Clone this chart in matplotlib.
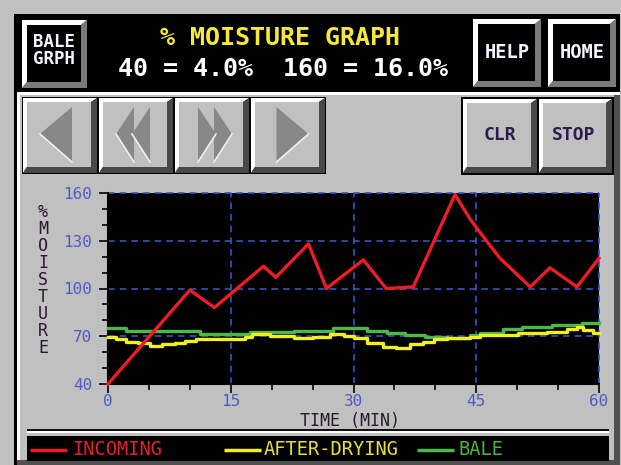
import matplotlib
matplotlib.use("Agg")
import matplotlib.pyplot as plt
from matplotlib.patches import Rectangle, Polygon
from matplotlib.ticker import MultipleLocator

# ---------------- data ----------------
incoming_t = [0, 10, 13, 19, 20.5, 24.5, 26.7, 31.2, 34, 37.3, 42.4, 44.2, 45.5, 47.9, 51.6, 54, 57.3, 60]
incoming_v = [40, 99, 88, 114, 107, 128, 100, 118, 100, 101, 159, 144, 135, 119, 101, 113, 101, 119]

drying_t = [0, 1.0, 2.2, 3.7, 5.1, 6.6, 8.2, 9.4, 10.8, 16.7, 17.6, 19.8, 22.7, 25.0, 27.1, 28.8,
            30.0, 31.6, 33.6, 35.2, 36.9, 38.5, 39.8, 41.4, 44.2, 45.5, 50.1, 53.6, 56.1, 57.3, 58.1, 59.3, 60]
drying_v = [69.7, 68.1, 66.6, 65.6, 64.1, 65.0, 66.0, 67.2, 68.1, 69.7, 71.2, 70.2, 69.1, 69.7, 71.4, 70.2,
            68.7, 66.0, 63.5, 62.4, 65.2, 66.6, 68.1, 68.7, 69.7, 70.5, 71.8, 72.9, 74.3, 75.6, 73.9, 72.3, 72.3]

bale_t = [0, 2.2, 11.2, 17.3, 22.7, 27.5, 31.6, 34.1, 36.3, 38.7, 41.4, 44.2, 45.5, 48.3, 50.6, 54.2, 57.9, 60]
bale_v = [75.0, 73.5, 71.2, 72.5, 73.2, 75.0, 73.5, 71.8, 70.8, 69.7, 68.7, 70.8, 72.3, 74.3, 75.9, 76.9, 78.4, 78.4]

series_names = ["INCOMING", "AFTER-DRYING", "BALE"]
series_colors = ["#ee1c24", "#f2ee20", "#4cb848"]
legend_text_colors = ["#e8202a", "#e8e030", "#50b040"]

x_ticks = [0, 15, 30, 45, 60]
y_ticks = [40, 70, 100, 130, 160]

title_text = "% MOISTURE GRAPH"
subtitle_text = "40 = 4.0%  160 = 16.0%"
x_label = "TIME (MIN)"
y_label = "%MOISTURE"

# ---------------- figure ----------------
W, H = 621, 465
fig = plt.figure(figsize=(W / 100, H / 100), dpi=100)
fig.patch.set_facecolor("#c0c0c0")
bg = fig.add_axes([0, 0, 1, 1])
bg.set_xlim(0, W)
bg.set_ylim(H, 0)
bg.axis("off")

MONO = "DejaVu Sans Mono"


def rect(x0, y0, x1, y1, fc, z=1):
    bg.add_patch(Rectangle((x0, y0), x1 - x0, y1 - y0, facecolor=fc, edgecolor="none", zorder=z))


def bevel(x0, y0, x1, y1, face, light, dark, bl, bd, z=2):
    rect(x0, y0, x1, y1, "#000000", z)
    x0 += 1; y0 += 1; x1 -= 1; y1 -= 1
    bg.add_patch(Polygon([(x0, y0), (x1, y0), (x1 - bd, y0 + bl), (x0 + bl, y0 + bl),
                          (x0 + bl, y1 - bd), (x0, y1)], closed=True, fc=light, ec="none", zorder=z))
    bg.add_patch(Polygon([(x1, y0), (x1, y1), (x0, y1), (x0 + bl, y1 - bd), (x1 - bd, y1 - bd),
                          (x1 - bd, y0 + bl)], closed=True, fc=dark, ec="none", zorder=z))
    rect(x0 + bl, y0 + bl, x1 - bd, y1 - bd, face, z)


# screen frame
rect(14, 14, 620, 465, "#000000", 0)
rect(17, 92, 620, 463, "#ffffff", 0.5)
rect(20, 95, 614, 460, "#c0c0c0", 0.6)
rect(614, 95, 620, 465, "#505050", 0.7)
rect(17, 460, 620, 465, "#505050", 0.7)
rect(16, 16, 620, 90, "#000000", 0.8)

# top black buttons
bevel(21, 19, 88, 89, "#000000", "#ffffff", "#7a7a7a", 5, 6)
bevel(472, 18, 542, 88, "#000000", "#ffffff", "#7a7a7a", 5, 6)
bevel(547, 18, 617, 88, "#000000", "#ffffff", "#7a7a7a", 5, 6)
bg.text(54, 50.5, "BALE\nGRPH", color="#f4f4ff", fontsize=12.5, family=MONO, weight="bold",
        ha="center", va="center", linespacing=0.95, zorder=5)
bg.text(507, 52, "HELP", color="#f4f4ff", fontsize=13.5, family=MONO, weight="bold", ha="center", va="center", zorder=5)
bg.text(582, 52, "HOME", color="#f4f4ff", fontsize=13.5, family=MONO, weight="bold", ha="center", va="center", zorder=5)

bg.text(280, 38, title_text, color="#f5e838", fontsize=18, family=MONO, weight="bold",
        ha="center", va="center", zorder=5)
bg.text(283, 69, subtitle_text, color="#ffffff", fontsize=18, family=MONO, weight="bold",
        ha="center", va="center", zorder=5)

# navigation buttons
nav = [(22, 98), (98, 174), (174, 250), (250, 326)]
for x0, x1 in nav:
    bevel(x0, 97, x1, 174, "#c0c0c0", "#ffffff", "#484848", 4, 6)
arrows = [
    [[(40, 134), (72, 107), (72, 162)]],
    [[(116, 134), (134, 107), (134, 162)], [(132, 134), (150, 107), (150, 162)]],
    [[(232, 134), (214, 107), (214, 162)], [(216, 134), (198, 107), (198, 162)]],
    [[(308.5, 134), (276.5, 107), (276.5, 162)]],
]
for group in arrows:
    for tri in group:
        bg.add_patch(Polygon(tri, closed=True, fc="#888888", ec="none", zorder=4))
        bg.plot([tri[0][0], tri[2][0]], [tri[0][1], tri[2][1]], color="#f0f0f0", lw=1.2, zorder=4.5)

# CLR / STOP
rect(461, 97, 614, 175, "#000000", 1.5)
bevel(462, 98, 538, 174, "#c0c0c0", "#ffffff", "#484848", 4, 6)
bevel(538, 98, 613, 174, "#c0c0c0", "#ffffff", "#484848", 4, 6)
bg.text(500, 135, "CLR", color="#2a1e50", fontsize=13, family=MONO, weight="bold", ha="center", va="center", zorder=5)
bg.text(574, 135, "STOP", color="#2a1e50", fontsize=13, family=MONO, weight="bold", ha="center", va="center", zorder=5)

# separator and legend box
rect(27, 429, 609, 431, "#101010", 2)
rect(27, 431, 609, 433, "#ffffff", 2)
rect(27, 436, 609, 461, "#000000", 2)

# y label stacked (one text)
bg.text(43, 280, "\n".join(y_label), color="#2c1830", fontsize=12, family=MONO,
        ha="center", va="center", linespacing=0.93, zorder=5)

# ---------------- chart ----------------
ax = fig.add_axes([108 / W, 1 - 384 / H, 491 / W, 191 / H])
ax.set_facecolor("#000000")
ax.set_xlim(0, 60)
ax.set_ylim(40, 160)

grid_kw = dict(color="#3554c8", lw=1.2, linestyle=(0, (4, 3)), zorder=1)
for yv in y_ticks[1:]:
    ax.axhline(yv, clip_on=False, **grid_kw)
for xv in x_ticks[1:]:
    ax.axvline(xv, clip_on=False, **grid_kw)

ax.plot(bale_t, bale_v, color=series_colors[2], lw=2.4, drawstyle="steps-post", zorder=3, clip_on=False)
ax.plot(drying_t, drying_v, color=series_colors[1], lw=2.4, drawstyle="steps-post", zorder=4, clip_on=False)
ax.plot(incoming_t, incoming_v, color=series_colors[0], lw=2.4, zorder=5, clip_on=False)

ax.set_xticks(x_ticks)
ax.set_yticks(y_ticks)
ax.xaxis.set_minor_locator(MultipleLocator(5))
ax.yaxis.set_minor_locator(MultipleLocator(10))
ax.tick_params(which="major", direction="out", length=6.5, width=1.2, color="#000000",
               labelcolor="#4f5bc4", labelsize=11.5)
ax.tick_params(which="minor", direction="out", length=4.5, width=1.2, color="#000000")
ax.tick_params(axis="y", pad=5)
ax.tick_params(axis="x", pad=0.5)
for lab in ax.get_xticklabels() + ax.get_yticklabels():
    lab.set_family(MONO)
for s in ["top", "right"]:
    ax.spines[s].set_visible(False)
for s in ["left", "bottom"]:
    ax.spines[s].set_color("#000000")
    ax.spines[s].set_linewidth(1.5)

bg.text(350, 420.5, x_label, color="#2c1830", fontsize=12, family=MONO, ha="center", va="center", zorder=5)

# legend
leg_items = [(30, 67, 72), (224, 261, 264), (417, 454, 458)]
for (lx0, lx1, tx), name, lc, tc in zip(leg_items, series_names, series_colors, legend_text_colors):
    bg.plot([lx0, lx1], [450, 450], color=lc, lw=2.5, zorder=5, solid_capstyle="butt")
    bg.text(tx, 449.5, name, color=tc, fontsize=13.5, family=MONO, ha="left", va="center", zorder=5)

fig.savefig("out.png", dpi=100, facecolor=fig.get_facecolor())
